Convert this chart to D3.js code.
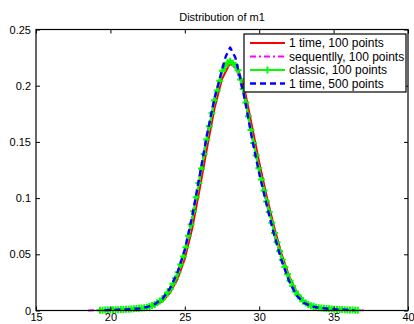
<!DOCTYPE html>
<html>
<head>
<meta charset="utf-8">
<script src="https://cdn.jsdelivr.net/npm/d3@7"></script>
<style>
html,body{margin:0;padding:0;background:#fff;}
svg{display:block;}
text{font-family:"Liberation Sans",Arial,sans-serif;}
</style>
</head>
<body>
<svg id="chart" width="414" height="324"></svg>
<script>
const title = "Distribution of m1";
const xTicks = [15, 20, 25, 30, 35, 40];
const yTicks = [0, 0.05, 0.1, 0.15, 0.2, 0.25];
const yTickLabels = ["0", "0.05", "0.1", "0.15", "0.2", "0.25"];
const seriesNames = ["1 time, 100 points", "sequentlly, 100 points", "classic, 100 points", "1 time, 500 points"];

// 1 time, 100 points (red)
const redX = [19.4, 20, 21, 22, 22.5, 23, 23.5, 24, 24.5, 25, 25.5, 26, 26.5, 27, 27.5, 28, 28.5, 29, 29.5, 30, 30.5, 31, 31.5, 32, 32.5, 33, 33.5, 34, 35, 36, 36.6];
const redY = [0.0003, 0.0005, 0.0009, 0.0018, 0.0026, 0.0045, 0.0082, 0.0155, 0.0275, 0.0460, 0.0730, 0.1080, 0.1450, 0.1800, 0.2060, 0.2190, 0.2180, 0.1980, 0.1650, 0.1320, 0.1020, 0.0745, 0.0505, 0.0310, 0.0170, 0.0085, 0.0045, 0.0027, 0.0012, 0.0005, 0.0003];

// sequentlly, 100 points (magenta)
const magX = [18.5, 19, 20, 21, 22, 22.5, 23, 23.5, 24, 24.5, 25, 25.5, 26, 26.5, 27, 27.5, 28, 28.5, 29, 29.5, 30, 30.5, 31, 31.5, 32, 32.5, 33, 33.5, 34, 35, 36, 37.2];
const magY = [0.0001, 0.0002, 0.0005, 0.001, 0.0021, 0.0032, 0.0058, 0.0105, 0.0195, 0.0335, 0.0545, 0.0845, 0.1210, 0.1575, 0.1895, 0.2130, 0.2210, 0.2140, 0.1900, 0.1550, 0.1230, 0.0950, 0.0680, 0.0455, 0.0270, 0.0140, 0.0070, 0.0038, 0.0024, 0.0011, 0.0005, 0.0001];

// classic, 100 points (green) - 100 evaluation points from 19.3 to 36.625
const greenStart = 19.3, greenStep = 0.175;
const greenY = [
0.00026,0.0003,0.00036,0.00043,0.0005,0.00057,0.00064,0.0007,0.00082,0.00093,
0.00104,0.00118,0.00132,0.00149,0.0017,0.0019,0.0022,0.00255,0.0029,0.0036,
0.0045,0.0054,0.0069,0.0084,0.0100,0.0130,0.0160,0.0192,0.0239,0.0286,
0.0340,0.0410,0.0480,0.0563,0.0665,0.0766,0.0882,0.1008,0.1134,0.1263,
0.1392,0.1521,0.1639,0.1755,0.1870,0.1958,0.2045,0.2132,0.2172,0.2205,
0.2218,0.2200,0.2180,0.2137,0.2055,0.1970,0.1850,0.1728,0.1605,0.1490,
0.1378,0.1266,0.1166,0.1068,0.0970,0.0876,0.0781,0.0689,0.0608,0.0528,
0.0451,0.0387,0.0322,0.0265,0.0218,0.0170,0.0135,0.0109,0.0082,0.0066,
0.0054,0.0042,0.0035,0.0030,0.0025,0.0023,0.0020,0.0018,0.0016,0.0014,
0.0012,0.0010,0.0009,0.0008,0.0007,0.0005,0.0005,0.0004,0.0003,0.0003];

// 1 time, 500 points (blue)
const blueX = [19.6, 20, 21, 22, 22.5, 23, 23.5, 24, 24.5, 25, 25.5, 26, 26.5, 27, 27.5, 27.75, 28.05, 28.4, 28.75, 29, 29.5, 30, 30.5, 31, 31.5, 32, 32.5, 33, 33.5, 34, 35, 36, 36.4];
const blueY = [0.0003, 0.0004, 0.0009, 0.0019, 0.0032, 0.0058, 0.0105, 0.0195, 0.0335, 0.0540, 0.0840, 0.1200, 0.1570, 0.1890, 0.2140, 0.2260, 0.2340, 0.2250, 0.2050, 0.1900, 0.1540, 0.1220, 0.0940, 0.0675, 0.0445, 0.0265, 0.0135, 0.0068, 0.0037, 0.0024, 0.0011, 0.0005, 0.0003];

const svg = d3.select("#chart");
const L = 36, R = 408, T = 29.5, B = 310.5;
const x = d3.scaleLinear().domain([15, 40]).range([L, R]);
const y = d3.scaleLinear().domain([0, 0.25]).range([B, T]);

const greenX = greenY.map((_, i) => greenStart + i * greenStep);
const toPts = (xs, ys) => xs.map((v, i) => [v, ys[i]]);
const line = d3.line().x(d => x(d[0])).y(d => y(d[1]));

const series = [
  {name: seriesNames[0], pts: toPts(redX, redY), color: "#ff0000", width: 2, dash: null, marker: false},
  {name: seriesNames[1], pts: toPts(magX, magY), color: "#ff00ff", width: 2, dash: "6,3,2,3", marker: false},
  {name: seriesNames[2], pts: toPts(greenX, greenY), color: "#00ff00", width: 2.2, dash: null, marker: true},
  {name: seriesNames[3], pts: toPts(blueX, blueY), color: "#0000ff", width: 2.4, dash: "6,4", marker: false}
];

svg.append("rect").attr("x", L).attr("y", T).attr("width", R - L).attr("height", B - T).attr("fill", "#fff");

const plot = svg.append("g");
series.forEach(s => {
  plot.append("path").attr("d", line(s.pts)).attr("fill", "none")
    .attr("stroke", s.color).attr("stroke-width", s.width)
    .attr("stroke-dasharray", s.dash).attr("stroke-linejoin", "round");
  if (s.marker) {
    plot.selectAll(null).data(s.pts).enter().append("path")
      .attr("d", d => `M${x(d[0]) - 3.5},${y(d[1])}h7M${x(d[0])},${y(d[1]) - 3.5}v7`)
      .attr("stroke", s.color).attr("stroke-width", 2).attr("fill", "none");
  }
});

const axG = svg.append("g");
const bottomAxis = d3.axisBottom(x).tickValues(xTicks).tickSizeInner(-4).tickSizeOuter(0).tickPadding(3);
const topAxis = d3.axisTop(x).tickValues(xTicks).tickSizeInner(-4).tickSizeOuter(0).tickFormat("");
const leftAxis = d3.axisLeft(y).tickValues(yTicks).tickSizeInner(-4).tickSizeOuter(0).tickPadding(5).tickFormat((d, i) => yTickLabels[i]);
const rightAxis = d3.axisRight(y).tickValues(yTicks).tickSizeInner(-4).tickSizeOuter(0).tickFormat("");

function style(g) {
  g.select(".domain").remove();
  g.selectAll("line").attr("stroke", "#000").attr("stroke-width", 1);
  g.selectAll("text").attr("fill", "#000").style("font-size", "11px").attr("font-family", "Liberation Sans, Arial, sans-serif");
}
axG.append("g").attr("transform", `translate(0,${B})`).call(bottomAxis).call(style);
axG.append("g").attr("transform", `translate(0,${T})`).call(topAxis).call(style);
axG.append("g").attr("transform", `translate(${L},0)`).call(leftAxis).call(style);
axG.append("g").attr("transform", `translate(${R},0)`).call(rightAxis).call(style);
axG.append("rect").attr("x", L).attr("y", T).attr("width", R - L).attr("height", B - T)
  .attr("fill", "none").attr("stroke", "#000").attr("stroke-width", 1.2);

svg.append("text").attr("x", (L + R) / 2).attr("y", 21).attr("text-anchor", "middle")
  .style("font-size", "11px").attr("fill", "#000").text(title);

const lg = svg.append("g");
const lx = 244, ly = 34, lw = 162, lh = 58;
lg.append("rect").attr("x", lx).attr("y", ly).attr("width", lw).attr("height", lh)
  .attr("fill", "#fff").attr("stroke", "#000").attr("stroke-width", 1.2);
const rowY = d3.scalePoint().domain(seriesNames).range([43, 83.5]);
series.forEach(s => {
  const yy = rowY(s.name);
  lg.append("line").attr("x1", 250).attr("x2", 285).attr("y1", yy).attr("y2", yy)
    .attr("stroke", s.color).attr("stroke-width", s.width).attr("stroke-dasharray", s.dash);
  if (s.marker) {
    lg.append("path").attr("d", `M${267.5 - 3.5},${yy}h7M267.5,${yy - 3.5}v7`)
      .attr("stroke", s.color).attr("stroke-width", 2);
  }
  lg.append("text").attr("x", 289).attr("y", yy + 4.2).style("font-size", "12px").attr("fill", "#000").text(s.name);
});
</script>
</body>
</html>
